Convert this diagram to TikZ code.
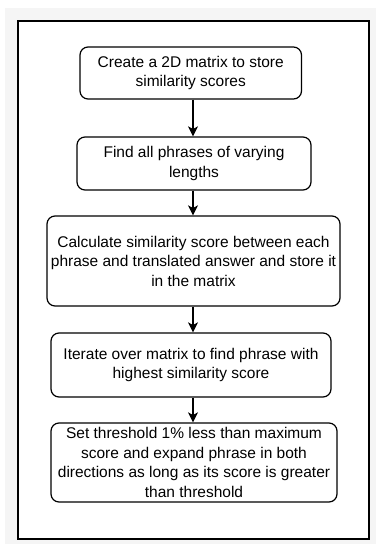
\documentclass[tikz,border=0pt]{standalone}
\usepackage{fontspec}
\setmainfont{Liberation Sans}
\usetikzlibrary{arrows.meta}
\definecolor{bggray}{HTML}{F5F5F5}
\tikzset{
  stepbox/.style={draw=black, line width=1.2pt, rounded corners=8pt, fill=white,
    align=center, inner sep=0pt, font=\fontsize{15.5}{19.5}\selectfont},
  flow/.style={draw=black, line width=1.2pt, -{Stealth[length=10pt,width=10pt,inset=2.5pt]}}
}
\begin{document}
\begin{tikzpicture}[x=1pt,y=-1pt]
\useasboundingbox (0,0) rectangle (376,544);
\fill[white] (0,0) rectangle (376,544);
\fill[bggray] (5,8) rectangle (376,544);
\draw[line width=1.5pt, fill=white] (18,21) rectangle (369,539);
\node[stepbox, minimum width=221.5pt, minimum height=52pt] (b1) at (190.75,73)
  {Create a 2D matrix to store\\similarity scores};
\node[stepbox, minimum width=234pt, minimum height=53pt] (b2) at (194,163.5)
  {Find all phrases of varying\\lengths};
\node[stepbox, minimum width=293pt, minimum height=90pt] (b3) at (193.5,261)
  {Calculate similarity score between each\\phrase and translated answer and store it\\in the matrix};
\node[stepbox, minimum width=280pt, minimum height=64pt] (b4) at (191,365)
  {Iterate over matrix to find phrase with\\highest similarity score};
\node[stepbox, minimum width=286pt, minimum height=79pt] (b5) at (194,462.5)
  {Set threshold 1\% less than maximum\\score and expand phrase in both\\directions as long as its score is greater\\than threshold};
\coordinate (ax) at (193,0);
\draw[flow] (b1.south -| ax) -- (b2.north -| ax);
\draw[flow] (b2.south -| ax) -- (b3.north -| ax);
\draw[flow] (b3.south -| ax) -- (b4.north -| ax);
\draw[flow] (b4.south -| ax) -- (b5.north -| ax);
\end{tikzpicture}
\end{document}
